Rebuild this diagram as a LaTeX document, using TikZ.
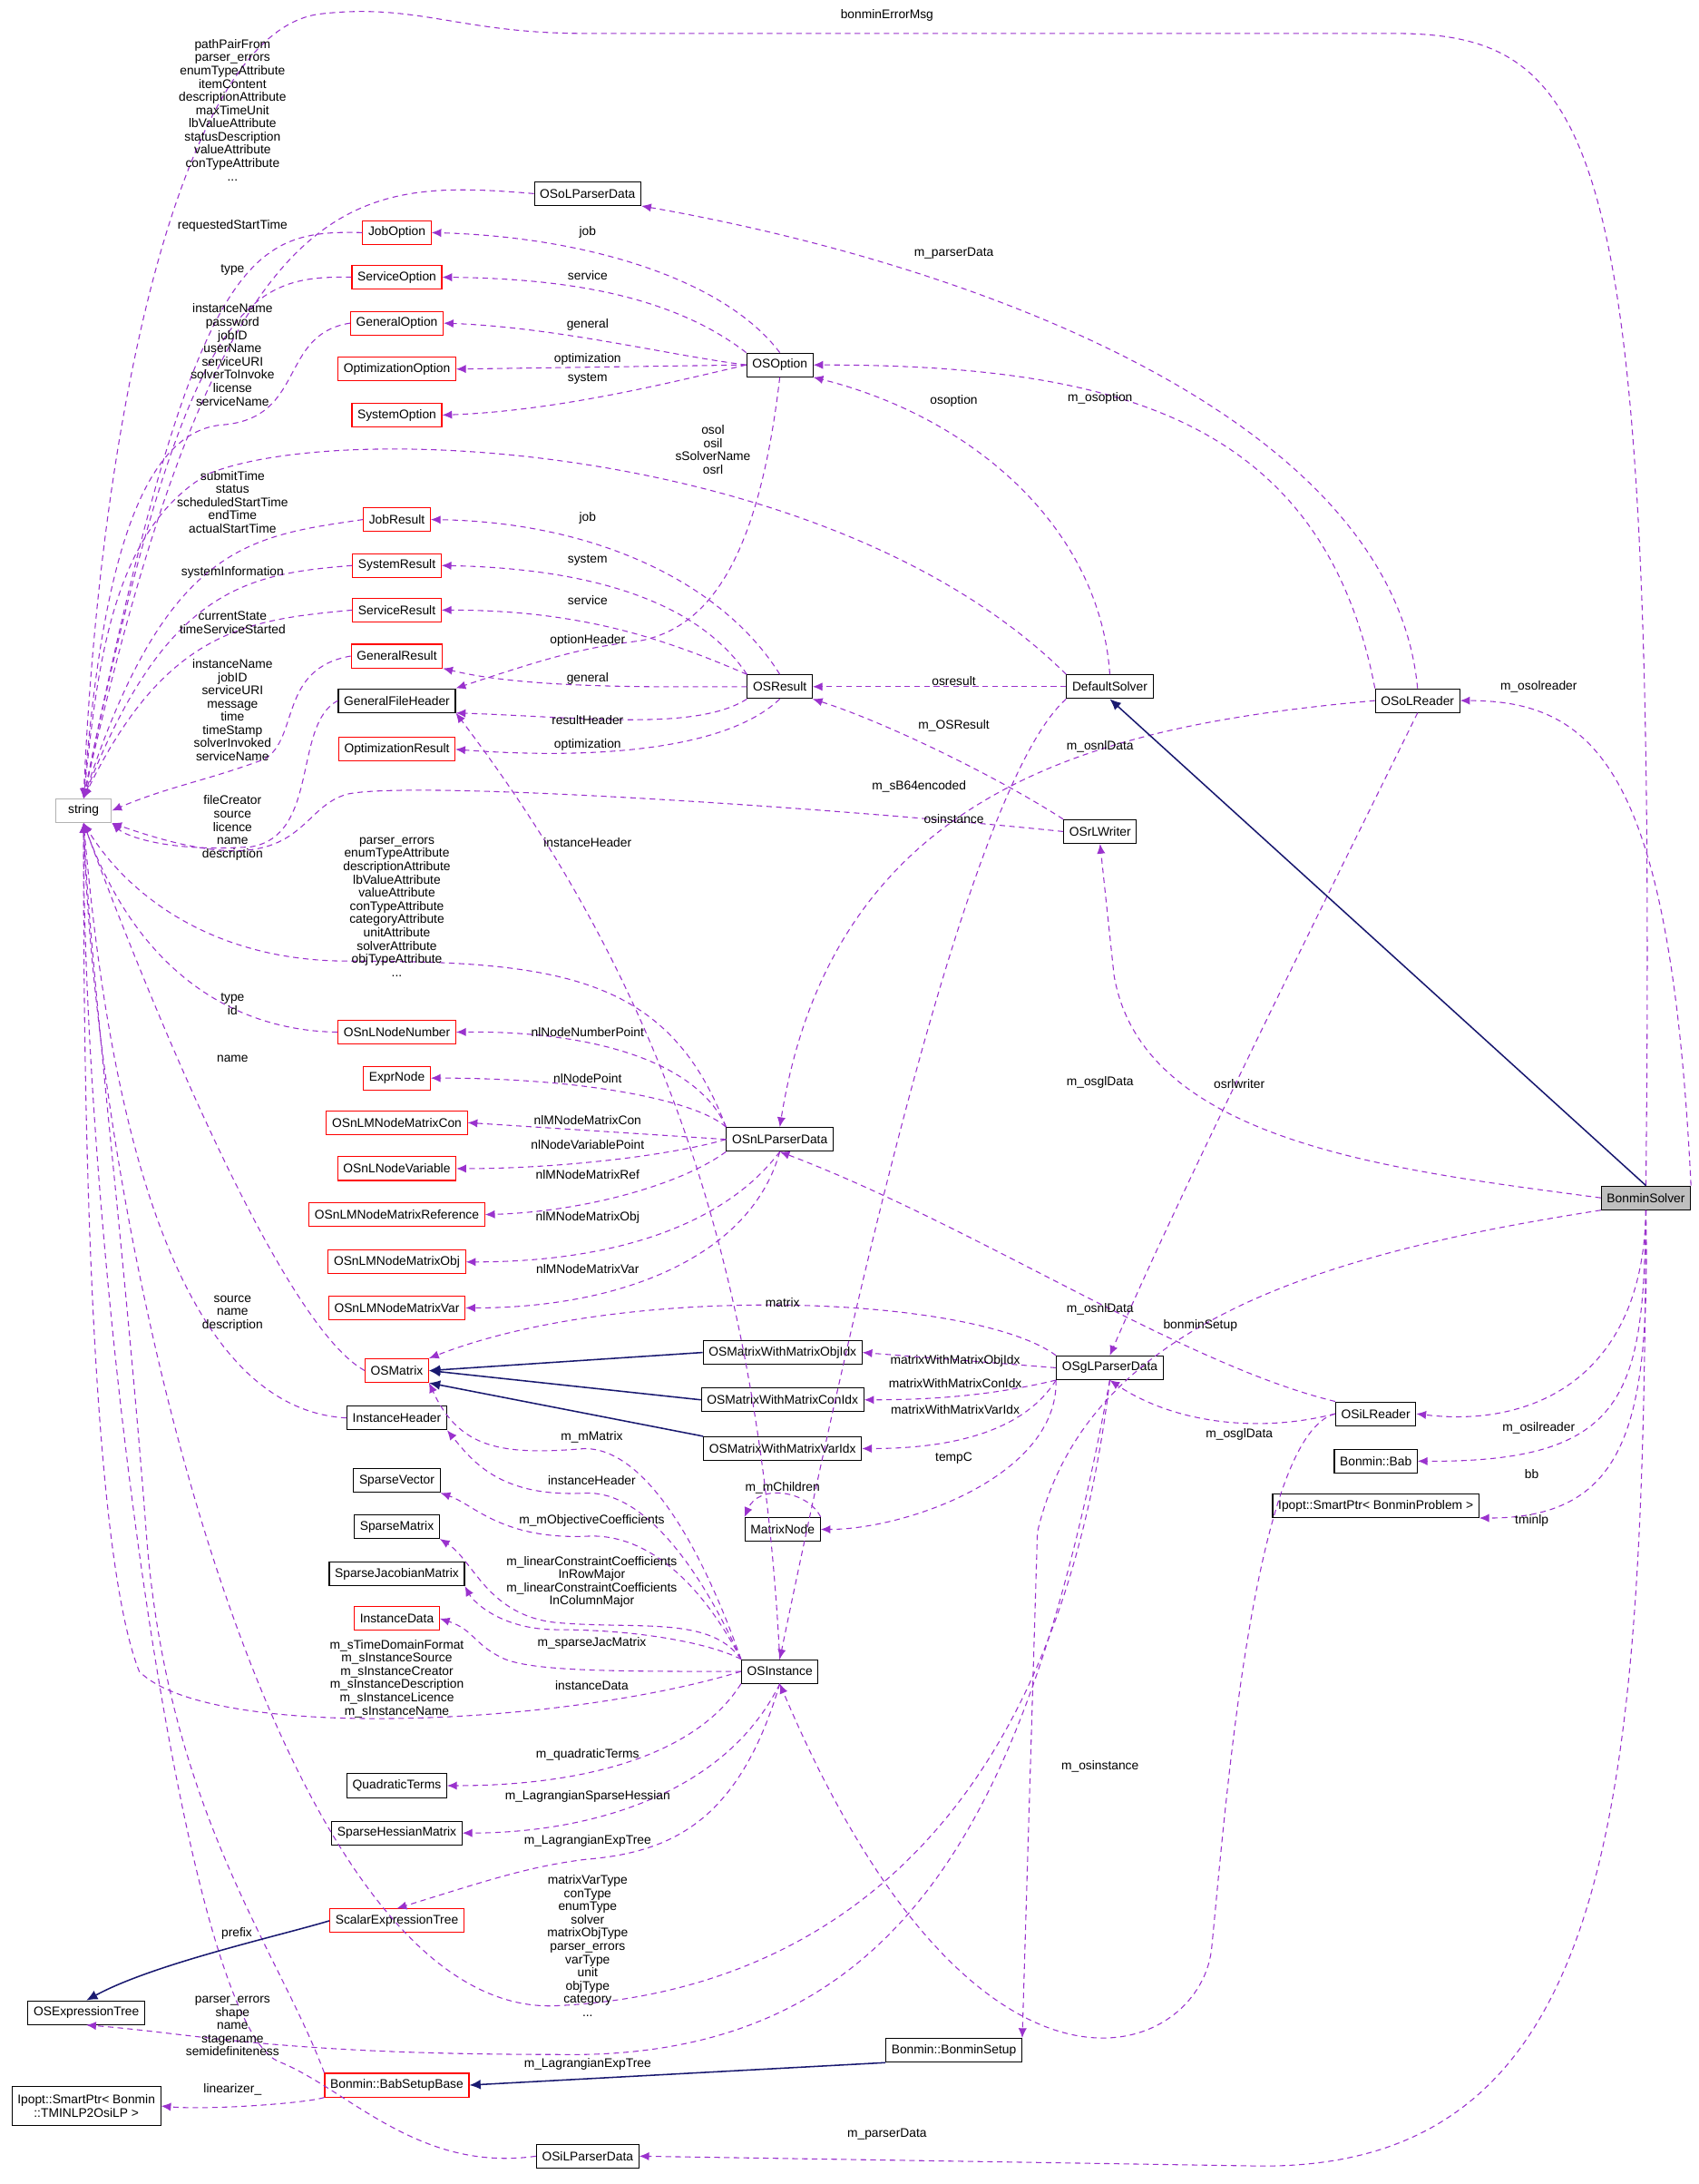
\documentclass[tikz,border=0pt]{standalone}
\usepackage{fontspec}
\setmainfont{Liberation Sans}
\usetikzlibrary{arrows.meta}
\definecolor{mem}{HTML}{9A32CD}
\definecolor{inh}{HTML}{191970}
\begin{document}
\begin{tikzpicture}[x=1pt,y=-1pt,
  every node/.style={font=\fontsize{9}{9.5}\selectfont},
  cls/.style={draw=black,fill=white,inner xsep=4pt,inner ysep=0pt,minimum height=17pt,line width=0.7pt},
  rcls/.style={cls,draw=red},
  lbl/.style={align=center,inner sep=0pt},
  memb/.style={draw=mem,line width=0.7pt,dash pattern=on 4pt off 3pt,-{Latex[length=7pt,width=6pt]}},
  inher/.style={draw=inh,line width=1pt,-{Latex[length=8pt,width=7pt]}}]
\useasboundingbox (0,0) rectangle (1220,1568);
% nodes
\node[cls,draw=gray!60,minimum width=40pt] (string) at (60,582) {string};
\node[cls] (OSoLParserData) at (422,139) {OSoLParserData};
\node[rcls] (JobOption) at (285,167) {JobOption};
\node[rcls] (ServiceOption) at (285,199) {ServiceOption};
\node[rcls] (GeneralOption) at (285,232) {GeneralOption};
\node[rcls] (OptimizationOption) at (285,265) {OptimizationOption};
\node[rcls] (SystemOption) at (285,298) {SystemOption};
\node[cls] (OSOption) at (560,262) {OSOption};
\node[rcls] (JobResult) at (285,373) {JobResult};
\node[rcls] (SystemResult) at (285,406) {SystemResult};
\node[rcls] (ServiceResult) at (285,438) {ServiceResult};
\node[rcls] (GeneralResult) at (285,471) {GeneralResult};
\node[cls] (GeneralFileHeader) at (285,503) {GeneralFileHeader};
\node[rcls] (OptimizationResult) at (285,538) {OptimizationResult};
\node[cls] (OSResult) at (560,493) {OSResult};
\node[cls] (DefaultSolver) at (797,493) {DefaultSolver};
\node[cls] (OSoLReader) at (1018,503) {OSoLReader};
\node[cls] (OSrLWriter) at (790,597) {OSrLWriter};
\node[rcls] (OSnLNodeNumber) at (285,741) {OSnLNodeNumber};
\node[rcls] (ExprNode) at (285,774) {ExprNode};
\node[rcls] (OSnLMNodeMatrixCon) at (285,806) {OSnLMNodeMatrixCon};
\node[rcls] (OSnLNodeVariable) at (285,839) {OSnLNodeVariable};
\node[rcls] (OSnLMNodeMatrixReference) at (285,872) {OSnLMNodeMatrixReference};
\node[rcls] (OSnLMNodeMatrixObj) at (285,906) {OSnLMNodeMatrixObj};
\node[rcls] (OSnLMNodeMatrixVar) at (285,939) {OSnLMNodeMatrixVar};
\node[cls] (OSnLParserData) at (560,818) {OSnLParserData};
\node[cls,fill=gray!50] (BonminSolver) at (1182,860) {BonminSolver};
\node[rcls] (OSMatrix) at (285,984) {OSMatrix};
\node[cls] (MObj) at (562,971) {OSMatrixWithMatrixObjIdx};
\node[cls] (MCon) at (562,1005) {OSMatrixWithMatrixConIdx};
\node[cls] (MVar) at (562,1040) {OSMatrixWithMatrixVarIdx};
\node[cls] (OSgLParserData) at (797,982) {OSgLParserData};
\node[cls] (OSiLReader) at (988,1015) {OSiLReader};
\node[cls] (Bab) at (988,1049) {Bonmin::Bab};
\node[cls] (SPBP) at (988,1081) {Ipopt::SmartPtr< BonminProblem >};
\node[cls] (InstanceHeader) at (285,1018) {InstanceHeader};
\node[cls] (MatrixNode) at (562,1098) {MatrixNode};
\node[cls] (SparseVector) at (285,1063) {SparseVector};
\node[cls] (SparseMatrix) at (285,1096) {SparseMatrix};
\node[cls] (SparseJacobianMatrix) at (285,1130) {SparseJacobianMatrix};
\node[rcls] (InstanceData) at (285,1162) {InstanceData};
\node[cls] (OSInstance) at (560,1200) {OSInstance};
\node[cls] (QuadraticTerms) at (285,1282) {QuadraticTerms};
\node[cls] (SparseHessianMatrix) at (285,1316) {SparseHessianMatrix};
\node[rcls] (ScalarExpressionTree) at (285,1379) {ScalarExpressionTree};
\node[cls] (OSExpressionTree) at (62,1445) {OSExpressionTree};
\node[cls] (BonminSetup) at (685,1472) {Bonmin::BonminSetup};
\node[rcls] (BabSetupBase) at (285,1497) {Bonmin::BabSetupBase};
\node[cls,align=center,minimum height=28pt] (SPTM) at (62,1512) {Ipopt::SmartPtr< Bonmin\\::TMINLP2OsiLP >};
\node[cls] (OSiLParserData) at (422,1548) {OSiLParserData};

% edges to string
\draw[memb] (BonminSolver.north) .. controls (1190,100) and (1150,24) .. (1000,24) -- (420,24) .. controls (330,24) and (300,2) .. (230,10) .. controls (130,22) and (72,300) .. (string.north);
\draw[memb] (OSoLParserData.west) .. controls (250,128) and (160,130) .. (string.north);
\draw[memb] (JobOption.west) .. controls (180,165) and (140,180) .. (string.north);
\draw[memb] (ServiceOption.west) .. controls (180,198) and (135,210) .. (string.north);
\draw[memb] (GeneralOption.west) .. controls (200,240) and (220,300) .. (160,305) .. controls (90,310) and (70,450) .. (string.north);
\draw[memb] (DefaultSolver.north west) .. controls (600,320) and (250,300) .. (150,340) .. controls (80,380) and (70,480) .. (string.north);
\draw[memb] (JobResult.west) .. controls (180,385) and (120,390) .. (string.north);
\draw[memb] (SystemResult.west) .. controls (180,412) and (120,420) .. (string.north);
\draw[memb] (ServiceResult.west) .. controls (180,445) and (120,450) .. (string.north);
\draw[memb] (GeneralResult.west) .. controls (200,480) and (215,530) .. (190,545) .. controls (150,560) and (120,565) .. (string.east);
\draw[memb] (GeneralFileHeader.west) .. controls (210,520) and (230,600) .. (180,608) .. controls (120,612) and (90,600) .. (string.south east);
\draw[memb] (OSrLWriter.west) .. controls (600,580) and (300,560) .. (250,570) .. controls (210,580) and (220,640) .. (string.south east);
\draw[memb] (OSnLParserData.north west) .. controls (480,700) and (400,690) .. (250,690) .. controls (150,690) and (90,640) .. (string.south);
\draw[memb] (OSnLNodeNumber.west) .. controls (170,740) and (100,700) .. (string.south);
\draw[memb] (OSMatrix.west) .. controls (200,950) and (100,700) .. (string.south);
\draw[memb] (InstanceHeader.west) .. controls (100,1010) and (70,700) .. (string.south);
\draw[memb] (OSInstance.west) .. controls (400,1240) and (150,1250) .. (100,1200) .. controls (60,1100) and (60,700) .. (string.south);
\draw[memb] (OSgLParserData.south) .. controls (760,1300) and (600,1430) .. (400,1440) .. controls (200,1450) and (70,900) .. (string.south);
\draw[memb] (OSiLParserData.west) .. controls (300,1560) and (250,1500) .. (200,1480) .. controls (130,1450) and (60,900) .. (string.south);
\draw[memb] (BabSetupBase.north west) .. controls (200,1400) and (120,1300) .. (105,1100) .. controls (90,900) and (65,700) .. (string.south);

% OSOption
\draw[memb] (OSOption.north) .. controls (520,200) and (420,170) .. (JobOption.east);
\draw[memb] (OSOption.north west) .. controls (480,210) and (400,200) .. (ServiceOption.east);
\draw[memb] (OSOption.west) .. controls (480,255) and (400,235) .. (GeneralOption.east);
\draw[memb] (OSOption.west) -- (OptimizationOption.east);
\draw[memb] (OSOption.west) .. controls (480,275) and (400,295) .. (SystemOption.east);
\draw[memb] (OSOption.south) .. controls (545,400) and (510,450) .. (460,460) .. controls (420,465) and (400,470) .. (GeneralFileHeader.north east);
% OSResult
\draw[memb] (OSResult.north) .. controls (520,420) and (430,375) .. (JobResult.east);
\draw[memb] (OSResult.north west) .. controls (500,430) and (420,408) .. (ServiceResult.east |- SystemResult.east);
\draw[memb] (OSResult.north west) .. controls (480,460) and (420,438) .. (ServiceResult.east);
\draw[memb] (OSResult.west) .. controls (480,493) and (380,495) .. (GeneralResult.south east);
\draw[memb] (OSResult.south west) .. controls (500,525) and (420,515) .. (GeneralFileHeader.south east);
\draw[memb] (OSResult.south) .. controls (520,540) and (420,545) .. (OptimizationResult.east);
% DefaultSolver
\draw[memb] (DefaultSolver.west) -- (OSResult.east);
\draw[memb] (DefaultSolver.north) .. controls (790,380) and (700,300) .. (OSOption.south east);
\draw[memb] (DefaultSolver.south west) .. controls (700,560) and (620,900) .. (OSInstance.north);
% OSoLReader
\draw[memb] (OSoLReader.north) .. controls (1000,300) and (700,190) .. (OSoLParserData.south east);
\draw[memb] (OSoLReader.north west) .. controls (950,300) and (800,262) .. (OSOption.east);
\draw[memb] (OSoLReader.west) .. controls (800,520) and (600,560) .. (OSnLParserData.north);
\draw[memb] (OSoLReader.south) .. controls (950,650) and (850,850) .. (OSgLParserData.north);
% OSrLWriter
\draw[memb] (OSrLWriter.north west) .. controls (720,560) and (640,520) .. (OSResult.south east);
% BonminSolver
\draw[inher] (BonminSolver.north) -- (DefaultSolver.south);
\draw[memb] (BonminSolver.west) .. controls (1000,840) and (820,820) .. (800,700) -- (OSrLWriter.south);
\draw[memb] (BonminSolver.north east) .. controls (1200,560) and (1150,503) .. (OSoLReader.east);
\draw[memb] (BonminSolver.south) .. controls (1180,990) and (1100,1025) .. (OSiLReader.east);
\draw[memb] (BonminSolver.south) .. controls (1180,1000) and (1170,1050) .. (Bab.east);
\draw[memb] (BonminSolver.south) .. controls (1185,1020) and (1170,1090) .. (SPBP.south east);
\draw[memb] (BonminSolver.south west) .. controls (950,900) and (780,950) .. (745,1100) -- (BonminSetup.north east);
\draw[memb] (BonminSolver.south) .. controls (1180,1300) and (1160,1560) .. (900,1555) -- (OSiLParserData.east);
% OSiLReader
\draw[memb] (OSiLReader.north west) .. controls (850,980) and (700,880) .. (OSnLParserData.south);
\draw[memb] (OSiLReader.west) .. controls (900,1030) and (840,1020) .. (OSgLParserData.south);
\draw[memb] (OSiLReader.west) .. controls (900,1030) and (880,1300) .. (870,1400) .. controls (860,1480) and (700,1540) .. (OSInstance.south);
% OSnLParserData
\draw[memb] (OSnLParserData.north west) .. controls (500,760) and (420,740) .. (OSnLNodeNumber.east);
\draw[memb] (OSnLParserData.north west) .. controls (500,790) and (420,774) .. (ExprNode.east);
\draw[memb] (OSnLParserData.west) -- (OSnLMNodeMatrixCon.east);
\draw[memb] (OSnLParserData.west) .. controls (480,830) and (400,839) .. (OSnLNodeVariable.east);
\draw[memb] (OSnLParserData.south west) .. controls (490,850) and (420,870) .. (OSnLMNodeMatrixReference.east);
\draw[memb] (OSnLParserData.south) .. controls (520,880) and (440,906) .. (OSnLMNodeMatrixObj.east);
\draw[memb] (OSnLParserData.south) .. controls (540,900) and (450,939) .. (OSnLMNodeMatrixVar.east);
% OSgLParserData
\draw[memb] (OSgLParserData.north west) .. controls (700,930) and (450,920) .. (OSMatrix.north east);
\draw[memb] (OSgLParserData.west) -- (MObj.east);
\draw[memb] (OSgLParserData.south west) .. controls (720,1000) and (680,1005) .. (MCon.east);
\draw[memb] (OSgLParserData.south west) .. controls (740,1020) and (700,1040) .. (MVar.east);
\draw[memb] (OSgLParserData.south west) .. controls (760,1060) and (650,1098) .. (MatrixNode.east);
\draw[memb] (MatrixNode.north east) .. controls (580,1070) and (545,1065) .. (MatrixNode.north west);
\draw[inher] (MObj.west) -- (OSMatrix.east);
\draw[inher] (MCon.west) -- (OSMatrix.east);
\draw[inher] (MVar.north west) -- (OSMatrix.south east);
% OSInstance
\draw[memb] (OSInstance.north west) .. controls (500,1100) and (460,1040) .. (420,1040) .. controls (360,1045) and (330,1040) .. (OSMatrix.south east);
\draw[memb] (OSInstance.north west) .. controls (500,1120) and (460,1070) .. (420,1072) .. controls (360,1075) and (340,1050) .. (InstanceHeader.south east);
\draw[memb] (OSInstance.north west) .. controls (500,1130) and (460,1100) .. (420,1103) .. controls (360,1105) and (340,1080) .. (SparseVector.south east);
\draw[memb] (OSInstance.north west) .. controls (510,1160) and (460,1170) .. (400,1165) .. controls (350,1160) and (340,1120) .. (SparseMatrix.south east);
\draw[memb] (OSInstance.north west) .. controls (510,1180) and (460,1170) .. (400,1170) .. controls (360,1170) and (340,1150) .. (SparseJacobianMatrix.south east);
\draw[memb] (OSInstance.west) .. controls (440,1200) and (380,1200) .. (360,1190) .. controls (340,1180) and (340,1170) .. (InstanceData.east);
\draw[memb] (OSInstance.north) .. controls (545,900) and (470,700) .. (GeneralFileHeader.south east);
\draw[memb] (OSInstance.south west) .. controls (500,1260) and (420,1282) .. (QuadraticTerms.east);
\draw[memb] (OSInstance.south) .. controls (520,1290) and (420,1316) .. (SparseHessianMatrix.east);
\draw[memb] (OSInstance.south) .. controls (530,1310) and (480,1330) .. (420,1335) .. controls (380,1340) and (350,1350) .. (ScalarExpressionTree.north);
\draw[memb] (OSgLParserData.south) .. controls (740,1300) and (650,1480) .. (400,1475) .. controls (200,1475) and (140,1460) .. (OSExpressionTree.south);
% inheritance bottom
\draw[inher] (ScalarExpressionTree.west) .. controls (200,1390) and (110,1410) .. (OSExpressionTree.north);
\draw[inher] (BonminSetup.south west) -- (BabSetupBase.east);
\draw[memb] (BabSetupBase.south west) .. controls (220,1510) and (150,1515) .. (SPTM.east);

% labels
\node[lbl] (l1) at (637,11) {bonminErrorMsg};
\node[lbl,anchor=north] (l2) at (167,28) {pathPairFrom\\parser\_errors\\enumTypeAttribute\\itemContent\\descriptionAttribute\\maxTimeUnit\\lbValueAttribute\\statusDescription\\valueAttribute\\conTypeAttribute\\...};
\node[lbl] (l3) at (167,162) {requestedStartTime};
\node[lbl] (l4) at (167,194) {type};
\node[lbl,anchor=north] (l5) at (167,218) {instanceName\\password\\jobID\\userName\\serviceURI\\solverToInvoke\\license\\serviceName};
\node[lbl,anchor=north] (l6) at (512,305) {osol\\osil\\sSolverName\\osrl};
\node[lbl,anchor=north] (l7) at (167,338) {submitTime\\status\\scheduledStartTime\\endTime\\actualStartTime};
\node[lbl] (l8) at (167,411) {systemInformation};
\node[lbl,anchor=north] (l9) at (167,439) {currentState\\timeServiceStarted};
\node[lbl,anchor=north] (l10) at (167,473) {instanceName\\jobID\\serviceURI\\message\\time\\timeStamp\\solverInvoked\\serviceName};
\node[lbl,anchor=north] (l11) at (167,571) {fileCreator\\source\\licence\\name\\description};
\node[lbl,anchor=north] (l12) at (285,601) {parser\_errors\\enumTypeAttribute\\descriptionAttribute\\lbValueAttribute\\valueAttribute\\conTypeAttribute\\categoryAttribute\\unitAttribute\\solverAttribute\\objTypeAttribute\\...};
\node[lbl,anchor=north] (l13) at (167,713) {type\\id};
\node[lbl] (l14) at (167,760) {name};
\node[lbl,anchor=north] (l15) at (167,930) {source\\name\\description};
\node[lbl,anchor=north] (l16) at (285,1177) {m\_sTimeDomainFormat\\m\_sInstanceSource\\m\_sInstanceCreator\\m\_sInstanceDescription\\m\_sInstanceLicence\\m\_sInstanceName};
\node[lbl,anchor=north] (l17) at (422,1346) {matrixVarType\\conType\\enumType\\solver\\matrixObjType\\parser\_errors\\varType\\unit\\objType\\category\\...};
\node[lbl,anchor=north] (l18) at (167,1433) {parser\_errors\\shape\\name\\stagename\\semidefiniteness};
\node[lbl] (l19) at (422,1482) {m\_LagrangianExpTree};
\node[lbl] (l20) at (167,1500) {linearizer\_};
\node[lbl] (l21) at (637,1532) {m\_parserData};
\node[lbl] (l22) at (170,1388) {prefix};
\node[lbl] (l23) at (422,167) {job};
\node[lbl] (l24) at (422,198) {service};
\node[lbl] (l25) at (422,233) {general};
\node[lbl] (l26) at (422,258) {optimization};
\node[lbl] (l27) at (422,272) {system};
\node[lbl] (l28) at (422,372) {job};
\node[lbl] (l29) at (422,402) {system};
\node[lbl] (l30) at (422,431) {service};
\node[lbl] (l31) at (422,460) {optionHeader};
\node[lbl] (l32) at (422,487) {general};
\node[lbl] (l33) at (422,517) {resultHeader};
\node[lbl] (l34) at (422,535) {optimization};
\node[lbl] (l35) at (660,565) {m\_sB64encoded};
\node[lbl] (l36) at (422,605) {instanceHeader};
\node[lbl] (l37) at (685,182) {m\_parserData};
\node[lbl] (l38) at (685,288) {osoption};
\node[lbl] (l39) at (790,286) {m\_osoption};
\node[lbl] (l40) at (685,489) {osresult};
\node[lbl] (l41) at (685,521) {m\_OSResult};
\node[lbl] (l42) at (790,536) {m\_osnlData};
\node[lbl] (l43) at (685,588) {osinstance};
\node[lbl] (l44) at (1105,493) {m\_osolreader};
\node[lbl] (l45) at (790,777) {m\_osglData};
\node[lbl] (l46) at (890,778) {osrlwriter};
\node[lbl] (l47) at (790,940) {m\_osnlData};
\node[lbl] (l48) at (862,952) {bonminSetup};
\node[lbl] (l49) at (890,1030) {m\_osglData};
\node[lbl] (l50) at (1105,1025) {m\_osilreader};
\node[lbl] (l51) at (1100,1058) {bb};
\node[lbl] (l52) at (1100,1092) {tminlp};
\node[lbl] (l53) at (790,1268) {m\_osinstance};
\node[lbl] (l54) at (422,741) {nlNodeNumberPoint};
\node[lbl] (l55) at (422,774) {nlNodePoint};
\node[lbl] (l56) at (422,804) {nlMNodeMatrixCon};
\node[lbl] (l57) at (422,822) {nlNodeVariablePoint};
\node[lbl] (l58) at (422,843) {nlMNodeMatrixRef};
\node[lbl] (l59) at (422,874) {nlMNodeMatrixObj};
\node[lbl] (l60) at (422,911) {nlMNodeMatrixVar};
\node[lbl] (l61) at (562,935) {matrix};
\node[lbl] (l62) at (686,977) {matrixWithMatrixObjIdx};
\node[lbl] (l63) at (686,993) {matrixWithMatrixConIdx};
\node[lbl] (l64) at (686,1012) {matrixWithMatrixVarIdx};
\node[lbl] (l65) at (685,1047) {tempC};
\node[lbl] (l66) at (562,1068) {m\_mChildren};
\node[lbl] (l67) at (425,1032) {m\_mMatrix};
\node[lbl] (l68) at (425,1063) {instanceHeader};
\node[lbl] (l69) at (425,1092) {m\_mObjectiveCoefficients};
\node[lbl,anchor=north] (l70) at (425,1117) {m\_linearConstraintCoefficients\\InRowMajor\\m\_linearConstraintCoefficients\\InColumnMajor};
\node[lbl] (l71) at (425,1180) {m\_sparseJacMatrix};
\node[lbl] (l72) at (425,1210) {instanceData};
\node[lbl] (l73) at (422,1260) {m\_quadraticTerms};
\node[lbl] (l74) at (422,1290) {m\_LagrangianSparseHessian};
\node[lbl] (l75) at (422,1322) {m\_LagrangianExpTree};
\end{tikzpicture}
\end{document}
